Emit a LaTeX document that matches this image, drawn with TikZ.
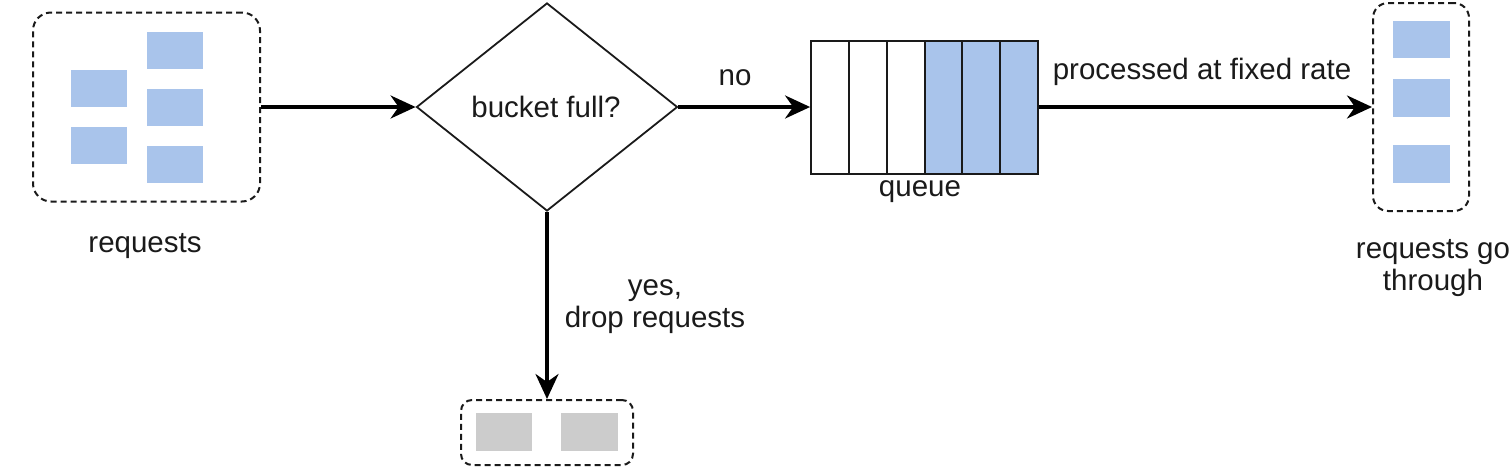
\documentclass[tikz,border=0pt]{standalone}
\usepackage{fontspec}
\setmainfont{Liberation Sans}
\usetikzlibrary{shapes.geometric,arrows.meta}
\definecolor{reqblue}{HTML}{A9C4EB}
\definecolor{dropgray}{HTML}{CCCCCC}
\definecolor{ink}{HTML}{1A1A1A}
\tikzset{
  dbox/.style={draw=ink, line width=2pt, dash pattern=on 6pt off 4pt, rounded corners=18pt, inner sep=0pt},
  bluerect/.style={fill=reqblue, minimum width=56pt, minimum height=37pt, inner sep=0pt},
  grayrect/.style={fill=dropgray, minimum width=56pt, minimum height=38pt, inner sep=0pt},
  qcell/.style={draw=ink, line width=2pt, minimum width=37.8pt, minimum height=133pt, inner sep=0pt},
  conn/.style={draw=black, line width=3.5pt, -{Stealth[length=25pt,width=23pt,inset=8pt]}},
  lbl/.style={text=ink, font=\fontsize{29.5}{32}\selectfont, align=center, inner sep=0pt},
}
\begin{document}
\begin{tikzpicture}[x=1pt,y=-1pt]
\useasboundingbox (0,0) rectangle (1510,474);
% incoming requests
\node[dbox, minimum width=227pt, minimum height=189pt] (req) at (146.5,107) {};
\node[bluerect] (r1) at (99,88.5) {};
\node[bluerect] (r2) at (99,145.5) {};
\node[bluerect] (r3) at (175,50.5) {};
\node[bluerect] (r4) at (175,107.5) {};
\node[bluerect] (r5) at (175,164.5) {};
\node[lbl] (reqlbl) at (145,246) {requests};
% decision
\node[draw=ink, line width=1.8pt, shape=diamond, minimum width=261pt, minimum height=208pt, inner sep=0pt] (dec) at (547,107) {};
\node[lbl] (declbl) at (546,107) {bucket full?};
% queue
\node[qcell] (q1) at (830,107) {};
\node[qcell] (q2) at (867.8,107) {};
\node[qcell] (q3) at (905.6,107) {};
\node[qcell, fill=reqblue] (q4) at (943.4,107) {};
\node[qcell, fill=reqblue] (q5) at (981.2,107) {};
\node[qcell, fill=reqblue] (q6) at (1019,107) {};
\node[lbl] (qlbl) at (920,192) {queue};
% output
\node[dbox, rounded corners=15pt, minimum width=96pt, minimum height=208pt] (out) at (1421,107) {};
\node[bluerect, minimum width=57pt] (o1) at (1421.5,39.5) {};
\node[bluerect, minimum width=57pt, minimum height=38pt] (o2) at (1421.5,98) {};
\node[bluerect, minimum width=57pt, minimum height=38pt] (o3) at (1421.5,164) {};
\node[lbl] (outlbl) at (1433,268) {requests go\\through};
% dropped
\node[dbox, rounded corners=11pt, minimum width=172pt, minimum height=65pt] (drop) at (547,432.5) {};
\node[grayrect] (d1) at (504,432) {};
\node[grayrect, minimum width=57pt] (d2) at (589.5,432) {};
% connectors
\draw[conn] (req.east) -- (dec.west);
\draw[conn] (dec.east) -- (q1.west);
\node[lbl] (nolbl) at (735,78) {no};
\draw[conn] (q6.east) -- (out.west);
\node[lbl] (ratelbl) at (1202,72) {processed at fixed rate};
\draw[conn] (dec.south) -- (drop.north);
\node[lbl] (droplbl) at (655,307) {yes,\\drop requests};
\end{tikzpicture}
\end{document}
